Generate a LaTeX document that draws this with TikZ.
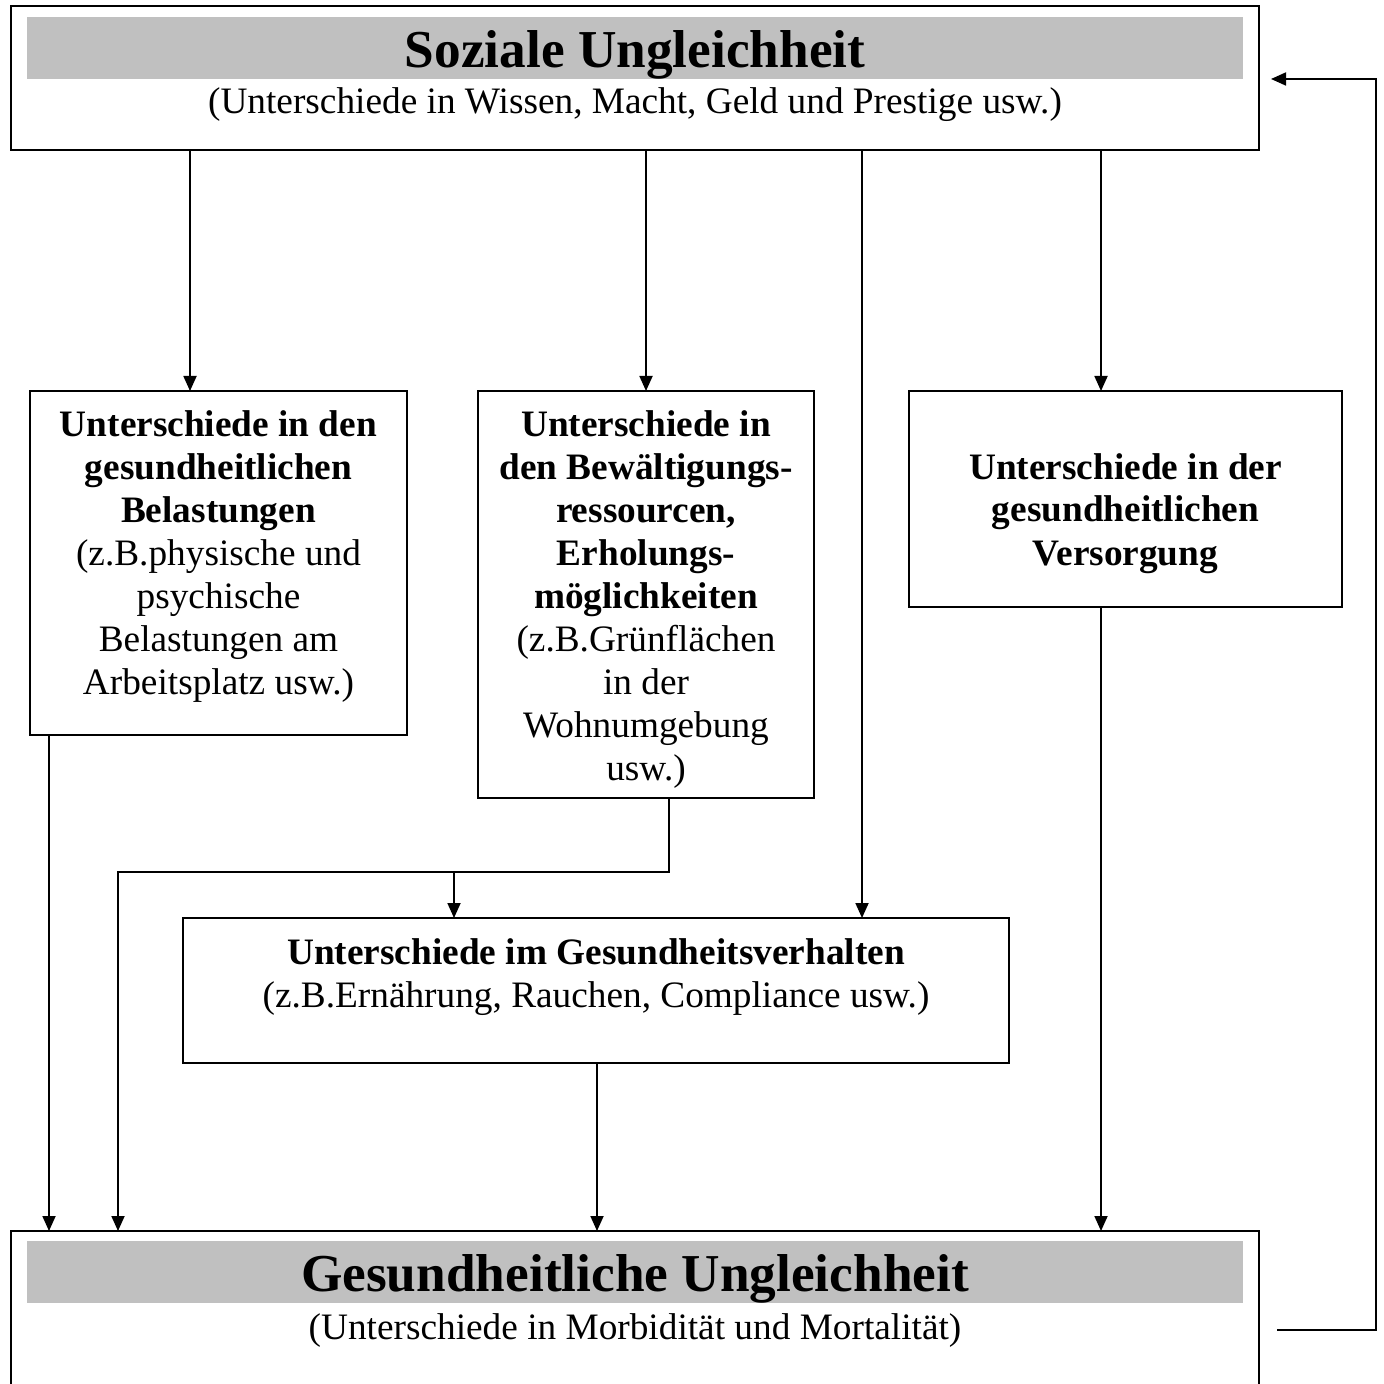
\documentclass[tikz,border=0pt]{standalone}
\usepackage{fontspec}
\setmainfont{Liberation Serif}
\usetikzlibrary{arrows.meta}
\definecolor{bandgray}{RGB}{192,192,192}
\begin{document}
\begin{tikzpicture}[x=0.5pt,y=-0.5pt,
  box/.style={draw,line width=1pt,inner sep=0pt,outer sep=0pt,anchor=north west},
  body/.style={font=\fontsize{18.65}{21.5}\selectfont,inner sep=0pt,anchor=base,align=center},
  title/.style={font=\fontsize{26.65}{30}\selectfont\bfseries,inner sep=0pt,anchor=base},
  arr/.style={line width=0.9pt,-{Triangle[length=7.5pt,width=6.5pt]}},
  conn/.style={line width=0.9pt}]
\useasboundingbox (0,0) rectangle (1384,1384);
\clip (0,0) rectangle (1384,1384);
% boxes
\node[box,minimum width=624pt,minimum height=72pt] (soz) at (11,6) {};
\node[box,minimum width=624pt,minimum height=84.5pt] (ges) at (11,1231) {};
\node[box,minimum width=188.5pt,minimum height=172pt] (A) at (30,391) {};
\node[box,minimum width=168pt,minimum height=203.5pt] (B) at (478,391) {};
\node[box,minimum width=216.5pt,minimum height=108pt] (C) at (909,391) {};
\node[box,minimum width=413pt,minimum height=72.5pt] (D) at (183,918) {};
% gray bands
\fill[bandgray] (27,17) rectangle (1243,79);
\fill[bandgray] (27,1241) rectangle (1243,1303);
% texts (anchor base = baseline of the last line)
\node[title] (tsoz) at (635,68) {Soziale Ungleichheit};
\node[body] (ssoz) at (635,114) {(Unterschiede in Wissen, Macht, Geld und Prestige usw.)};
\node[title] (tges) at (635,1291) {Gesundheitliche Ungleichheit};
\node[body] (sges) at (635,1339) {(Unterschiede in Morbidität und Mortalität)};
\node[body] (ta) at (218.5,694) {\textbf{Unterschiede in den}\\\textbf{gesundheitlichen}\\\textbf{Belastungen}\\(z.B.physische und\\psychische\\Belastungen am\\Arbeitsplatz usw.)};
\node[body] (tb) at (646,780) {\textbf{Unterschiede in}\\\textbf{den Bewältigungs-}\\\textbf{ressourcen,}\\\textbf{Erholungs-}\\\textbf{möglichkeiten}\\(z.B.Grünflächen\\in der\\Wohnumgebung\\usw.)};
\node[body] (tc) at (1125.5,565) {\textbf{Unterschiede in der}\\\textbf{gesundheitlichen}\\\textbf{Versorgung}};
\node[body] (td) at (596,1007) {\textbf{Unterschiede im Gesundheitsverhalten}\\(z.B.Ernährung, Rauchen, Compliance usw.)};
% connector columns
\coordinate (c1) at (190,0);
\coordinate (c3) at (862,0);
\coordinate (c4) at (1101,0);
\coordinate (c5) at (49,0);
\coordinate (c6) at (118,0);
\coordinate (c7) at (669,0);
\coordinate (c8) at (454,0);
\coordinate (c9) at (597,0);
\coordinate (j) at (669,872);
\coordinate (fbs) at (1277,1330);
\coordinate (fbr) at (1376,1330);
\coordinate (fbe) at (1271,79);
% connectors
\draw[arr] (soz.south -| c1) -- (A.north -| c1);
\draw[arr] (soz.south -| B.north) -- (B.north);
\draw[arr] (soz.south -| c3) -- (D.north -| c3);
\draw[arr] (soz.south -| c4) -- (C.north -| c4);
\draw[arr] (A.south -| c5) -- (ges.north -| c5);
\draw[arr] (B.south -| c7) -- (j) -| (ges.north -| c6);
\draw[arr] (j -| c8) -- (D.north -| c8);
\draw[arr] (D.south -| c9) -- (ges.north -| c9);
\draw[arr] (C.south -| c4) -- (ges.north -| c4);
\draw[arr] (fbs) -- (fbr) |- (fbe);
\end{tikzpicture}
\end{document}
